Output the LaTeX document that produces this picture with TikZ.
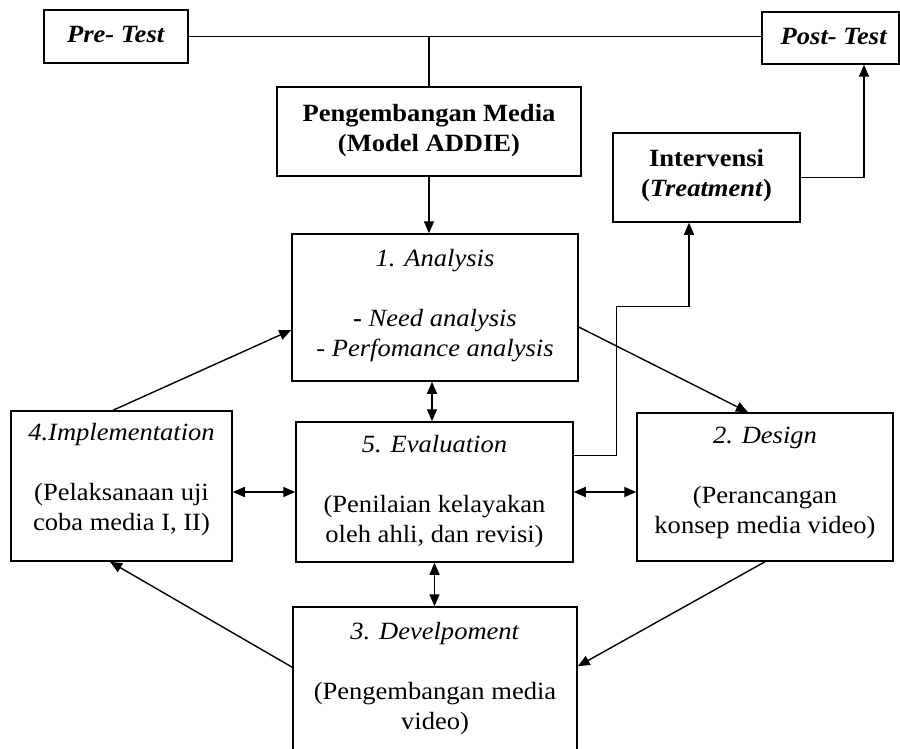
\documentclass[tikz,border=0pt]{standalone}
\usepackage{fontspec}
\setmainfont{Liberation Serif}[FakeStretch=1.07]
\usetikzlibrary{arrows.meta,calc}
\begin{document}
\begin{tikzpicture}[x=1pt,y=-1pt,
  box/.style={draw, line width=1.5pt, inner sep=0pt},
  txt/.style={align=center, inner sep=0pt, font=\fontsize{24.8}{30}\selectfont},
  conn/.style={line width=1.4pt},
  arr/.style={line width=1.4pt, -{Triangle[length=12pt,width=10pt]}},
  darr/.style={line width=1.4pt, {Triangle[length=12pt,width=10pt]}-{Triangle[length=12pt,width=10pt]}}]
\useasboundingbox (0,0) rectangle (900,749);
\clip (0,0) rectangle (900,749);
\fill[white] (0,0) rectangle (900,749);

% boxes
\node[box, minimum width=144pt, minimum height=53pt] (pre) at (116,36.5) {};
\node[box, minimum width=137pt, minimum height=52pt] (post) at (830.5,38) {};
\node[box, minimum width=304pt, minimum height=89pt] (peng) at (429,131.5) {};
\node[box, minimum width=187pt, minimum height=89pt] (interv) at (706.5,177.5) {};
\node[box, minimum width=286pt, minimum height=147pt] (analysis) at (435,307.5) {};
\node[box, minimum width=221pt, minimum height=150pt] (impl) at (121.5,486) {};
\node[box, minimum width=277pt, minimum height=140pt] (eval) at (434.5,492) {};
\node[box, minimum width=256pt, minimum height=148pt] (design) at (765,487) {};
\node[box, minimum width=284pt, minimum height=183pt] (devel) at (435,698.5) {};

% texts
\node[txt] (pre-t) at (116,35) {\textbf{\textit{Pre- Test}}};
\node[txt] (post-t) at (834,37) {\textbf{\textit{Post- Test}}};
\node[txt] (peng-t) at (429,131) {\textbf{Pengembangan Media}\\\textbf{(Model ADDIE)}};
\node[txt] (interv-t) at (706.5,176) {\textbf{Intervensi}\\\textbf{(\textit{Treatment})}};
\node[txt] (analysis-t) at (435,306) {\textit{1. Analysis}\\[30pt]\textbf{-} \textit{Need analysis}\\- \textit{Perfomance analysis}};
\node[txt] (impl-t) at (121.5,479.5) {\textit{4.Implementation}\\[30pt](Pelaksanaan uji\\coba media I, II)};
\node[txt] (eval-t) at (434.5,492) {\textit{5. Evaluation}\\[30pt](Penilaian kelayakan\\oleh ahli, dan revisi)};
\node[txt] (design-t) at (765,482.5) {\textit{2. Design}\\[30pt](Perancangan\\konsep media video)};
\node[txt] (devel-t) at (435,679) {\textit{3. Develpoment}\\[30pt](Pengembangan media\\video)};

% connectors
\draw[conn] (pre.east) -- (pre.east -| post.west);
\draw[conn] (peng.north |- pre.east) -- (peng.north);
\draw[arr] (peng.south) -- (peng.south |- analysis.north);
\draw[arr] (interv.east) -| ($(post.south)+(33.5,0)$);
\draw[arr] ($(eval.north east)+(0,34)$) -- ++(43,0) -- ++(0,-149) -| ($(interv.south)+(-17.5,0)$);
\draw[arr] ($(impl.north)+(-8.5,0)$) -- ($(analysis.west)+(0,22.5)$);
\draw[arr] ($(analysis.east)+(0,19.5)$) -- ($(design.north)+(-17,0)$);
\draw[darr] ($(analysis.south)+(-3,0)$) coordinate (ae) -- (ae |- eval.north);
\draw[darr] (eval.west -| impl.east) -- (eval.west);
\draw[darr] (eval.east) -- (eval.east -| design.west);
\draw[darr] (eval.south) -- (eval.south |- devel.north);
\draw[arr] ($(devel.north west)+(0,61)$) -- ($(impl.south)+(-11.5,0)$);
\draw[arr] (design.south) -- ($(devel.north east)+(0,60)$);
\end{tikzpicture}
\end{document}
